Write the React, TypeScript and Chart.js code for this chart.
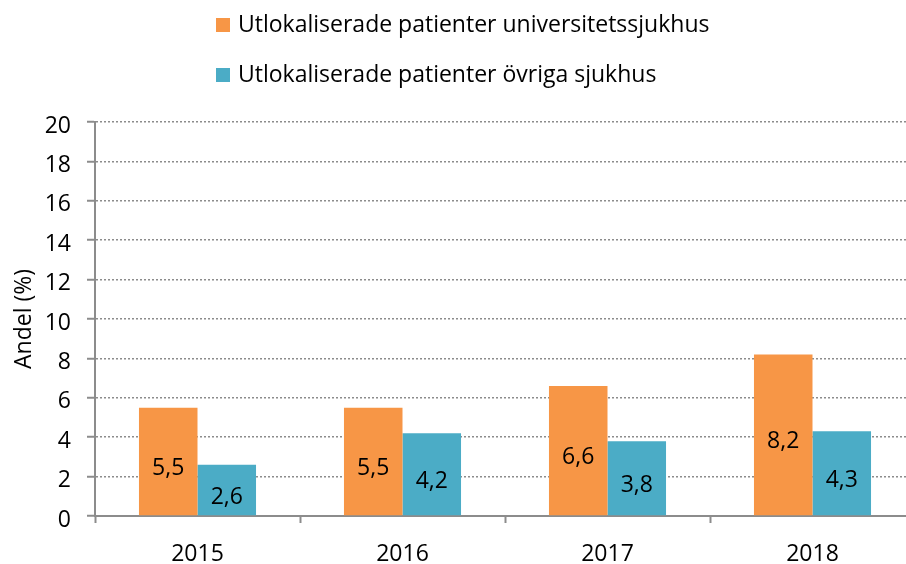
import React, { useEffect, useRef } from "react";
import { Chart, registerables } from "chart.js";

Chart.register(...registerables);

const categories = ["2015", "2016", "2017", "2018"];
const seriesNames = [
  "Utlokaliserade patienter universitetssjukhus",
  "Utlokaliserade patienter övriga sjukhus",
];
const universitetssjukhus = [5.5, 5.5, 6.6, 8.2];
const ovrigaSjukhus = [2.6, 4.2, 3.8, 4.3];
const seriesColors = ["#F79646", "#4BACC6"];
const yTitle = "Andel (%)";

const FONT = "'Open Sans', sans-serif";
const FS = 23;
const GRAY = "#8c8c8c";

const fmt = (v: number) => v.toFixed(1).replace(".", ",");

const labelPlugin = {
  id: "barLabels",
  afterDatasetsDraw(chart: any) {
    const ctx = chart.ctx;
    ctx.save();
    ctx.font = `${FS}px ${FONT}`;
    ctx.fillStyle = "#000";
    ctx.textAlign = "center";
    ctx.textBaseline = "middle";
    chart.data.datasets.forEach((ds: any, di: number) => {
      const meta = chart.getDatasetMeta(di);
      meta.data.forEach((bar: any, i: number) => {
        const v = ds.data[i];
        const yMid = (bar.y + bar.base) / 2;
        ctx.fillText(fmt(v), bar.x, yMid + 7);
      });
    });
    ctx.restore();
  },
};

const legendPlugin = {
  id: "customLegend",
  afterDraw(chart: any) {
    const ctx = chart.ctx;
    ctx.save();
    ctx.font = `${FS}px ${FONT}`;
    ctx.textAlign = "left";
    ctx.textBaseline = "alphabetic";
    const rows = [
      { boxY: 18, textY: 32 },
      { boxY: 68, textY: 82 },
    ];
    chart.data.datasets.forEach((ds: any, di: number) => {
      const r = rows[di];
      ctx.fillStyle = ds.backgroundColor;
      ctx.fillRect(216, r.boxY, 14, 14);
      ctx.fillStyle = "#000";
      ctx.fillText(ds.label, 238, r.textY);
    });
    ctx.restore();
  },
};

export default function App() {
  const ref = useRef<HTMLCanvasElement>(null);

  useEffect(() => {
    if (!ref.current) return;
    const chart = new Chart(ref.current, {
      type: "bar",
      data: {
        labels: categories,
        datasets: [
          {
            label: seriesNames[0],
            data: universitetssjukhus,
            backgroundColor: seriesColors[0],
            categoryPercentage: 0.571,
            barPercentage: 1.0,
          },
          {
            label: seriesNames[1],
            data: ovrigaSjukhus,
            backgroundColor: seriesColors[1],
            categoryPercentage: 0.571,
            barPercentage: 1.0,
          },
        ],
      },
      options: {
        responsive: false,
        animation: false,
        layout: { padding: { top: 122, right: 15, left: 0, bottom: 0 } },
        plugins: {
          legend: { display: false },
          tooltip: { enabled: false },
        },
        scales: {
          x: {
            grid: {
              drawOnChartArea: false,
              drawTicks: true,
              tickLength: 7,
              tickColor: GRAY,
              tickWidth: 2,
              offset: true,
            },
            border: { display: true, color: GRAY, width: 2 },
            ticks: {
              color: "#000",
              font: { family: FONT, size: FS },
              padding: 18,
              maxRotation: 0,
            },
            afterFit(scale: any) {
              scale.height = 48;
            },
          },
          y: {
            min: 0,
            max: 20,
            ticks: {
              stepSize: 2,
              color: "#000",
              font: { family: FONT, size: FS },
              padding: 16,
              labelOffset: 4,
            },
            grid: {
              color: GRAY,
              lineWidth: 1.5,
              drawTicks: true,
              tickLength: 8,
              tickColor: GRAY,
              tickWidth: 2,
              tickBorderDash: [],
            },
            border: { display: true, color: GRAY, width: 2, dash: [2, 2] },
            title: {
              display: true,
              text: yTitle,
              color: "#000",
              font: { family: FONT, size: FS },
              padding: { top: 11, bottom: 0 },
            },
            afterFit(scale: any) {
              scale.width = 95;
            },
          },
        },
      },
      plugins: [labelPlugin, legendPlugin],
    });
    return () => chart.destroy();
  }, []);

  return (
    <div style={{ position: "fixed", left: 0, top: 0, width: 930, height: 564, background: "#fff" }}>
      <canvas ref={ref} width={930} height={564} style={{ display: "block" }} />
    </div>
  );
}
